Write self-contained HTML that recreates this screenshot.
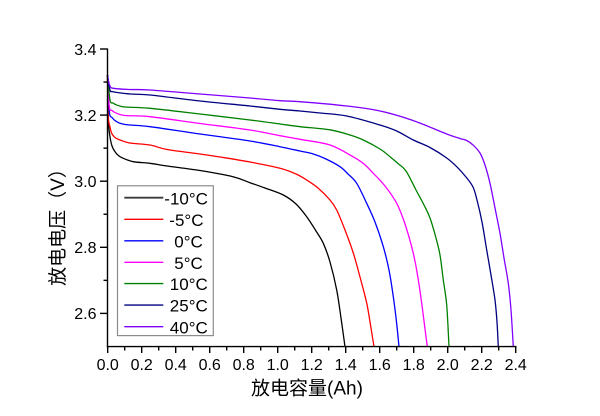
<!DOCTYPE html>
<html>
<head>
<meta charset="utf-8">
<style>
html,body{margin:0;padding:0;background:#fff;}
svg{display:block;}
text{font-family:"Liberation Sans","Noto Sans CJK SC",sans-serif;fill:#000;}
</style>
</head>
<body>
<svg id="chart" width="600" height="416" viewBox="0 0 600 416" xmlns="http://www.w3.org/2000/svg">
<rect width="600" height="416" fill="#fff"/>

<!-- curves -->
<g id="curves" fill="none" stroke-width="1.3" stroke-linejoin="round">
<polyline stroke="#000000" points="107.5,75 108.3,120 110,136.7 112,146 115,151.7 119,156 123.3,158.3 133.3,161.7 150,163.3 167,166 200,170.5 233,176.7 250,182.7 265,188 283.3,195 296,204 306.7,216.7 316,231 323.3,243.3 330,262 336.7,290 341,318 345,346.7"/>
<polyline stroke="#ff0000" points="107.5,75 108.3,116.7 110,127 111.7,133.3 115,137.5 120,140 130,143 150,145 167,149.5 200,154 220,157 250,162 280,168.3 296,174 306.7,180 318,188 330,200 336.7,210 345,230 353.3,253 360,277 366.7,303 370.5,325 374,346.7"/>
<polyline stroke="#0000ff" points="107.5,75 109.3,111.7 112,117.5 116.7,121.7 125,124.5 150,126.7 200,134 250,141 280,146.7 300,151 313.3,154 326,159 340,166.7 348,174 356.7,183.3 366.7,203.3 375,222 383.3,246.7 389,270 393.3,296.7 396.5,322 399,346.7"/>
<polyline stroke="#ff00ff" points="107.5,75 109.3,106.7 112,110.5 116.7,113.3 125,115.5 150,116.7 200,123.5 250,130 280,135.7 300,139.3 330,145 353,156.7 364,164 373.3,173.3 385,186 396.7,203.3 405,224 413.3,253.3 418,278 421.7,303.3 424.5,325 427.3,346.7"/>
<polyline stroke="#008000" points="107.5,75 110,100 113,103 116.7,105 125,107 150,108.3 200,114 250,120 280,124 300,126.7 330,129.8 350,135 363.3,140 380,149 390,156.7 398,163.5 406,171 416,190 424,205 430,218 436,238 440,255 443.3,280 446.7,305 449,346.7"/>
<polyline stroke="#000080" points="107.5,75 110,90 113,91.7 130,94 150,95 200,101 250,106 280,109.3 300,111 320,113 346.7,116 380,125 396.7,131 413.3,140 430,147.5 446.7,158 456.7,166.7 466,177 473,187 477,200 482,222 486.7,250 491,275 495,300 497,322 498.3,346.7"/>
<polyline stroke="#8000ff" points="107.5,75 108.3,80 110,86 113.3,88.3 130,89.5 150,90 200,94 250,98 280,100.7 300,101.7 346.7,106 380,111 413,120.5 446.7,134 460,138.5 466.7,140.5 473,145 480,153 485,165 490,183.3 495,208 500,233.3 504,258 508.3,283.3 511,310 513.3,346.7"/>
</g>

<!-- axes -->
<g stroke="#000" stroke-width="1.4" fill="none">
<line x1="107.5" y1="48.5" x2="107.5" y2="347.2"/>
<line x1="106.8" y1="346.6" x2="516.5" y2="346.6"/>
<line x1="100" y1="49" x2="107.5" y2="49"/>
<line x1="100" y1="115.1" x2="107.5" y2="115.1"/>
<line x1="100" y1="181.2" x2="107.5" y2="181.2"/>
<line x1="100" y1="247.3" x2="107.5" y2="247.3"/>
<line x1="100" y1="313.4" x2="107.5" y2="313.4"/>
<line x1="103.5" y1="82.05" x2="107.5" y2="82.05"/>
<line x1="103.5" y1="148.15" x2="107.5" y2="148.15"/>
<line x1="103.5" y1="214.25" x2="107.5" y2="214.25"/>
<line x1="103.5" y1="280.35" x2="107.5" y2="280.35"/>
<line x1="107.7" y1="346.6" x2="107.7" y2="353"/>
<line x1="141.7" y1="346.6" x2="141.7" y2="353"/>
<line x1="175.7" y1="346.6" x2="175.7" y2="353"/>
<line x1="209.7" y1="346.6" x2="209.7" y2="353"/>
<line x1="243.7" y1="346.6" x2="243.7" y2="353"/>
<line x1="277.7" y1="346.6" x2="277.7" y2="353"/>
<line x1="311.7" y1="346.6" x2="311.7" y2="353"/>
<line x1="345.7" y1="346.6" x2="345.7" y2="353"/>
<line x1="379.7" y1="346.6" x2="379.7" y2="353"/>
<line x1="413.7" y1="346.6" x2="413.7" y2="353"/>
<line x1="447.7" y1="346.6" x2="447.7" y2="353"/>
<line x1="481.7" y1="346.6" x2="481.7" y2="353"/>
<line x1="515.7" y1="346.6" x2="515.7" y2="353"/>
<line x1="124.7" y1="346.6" x2="124.7" y2="350.5"/>
<line x1="158.7" y1="346.6" x2="158.7" y2="350.5"/>
<line x1="192.7" y1="346.6" x2="192.7" y2="350.5"/>
<line x1="226.7" y1="346.6" x2="226.7" y2="350.5"/>
<line x1="260.7" y1="346.6" x2="260.7" y2="350.5"/>
<line x1="294.7" y1="346.6" x2="294.7" y2="350.5"/>
<line x1="328.7" y1="346.6" x2="328.7" y2="350.5"/>
<line x1="362.7" y1="346.6" x2="362.7" y2="350.5"/>
<line x1="396.7" y1="346.6" x2="396.7" y2="350.5"/>
<line x1="430.7" y1="346.6" x2="430.7" y2="350.5"/>
<line x1="464.7" y1="346.6" x2="464.7" y2="350.5"/>
<line x1="498.7" y1="346.6" x2="498.7" y2="350.5"/>
</g>

<!-- y tick labels -->
<g font-size="16" text-anchor="end">
<text x="96.5" y="54.8">3.4</text>
<text x="96.5" y="120.9">3.2</text>
<text x="96.5" y="187">3.0</text>
<text x="96.5" y="253.1">2.8</text>
<text x="96.5" y="319.2">2.6</text>
</g>

<!-- x tick labels -->
<g font-size="16" text-anchor="middle">
<text x="107.7" y="370">0.0</text>
<text x="141.7" y="370">0.2</text>
<text x="175.7" y="370">0.4</text>
<text x="209.7" y="370">0.6</text>
<text x="243.7" y="370">0.8</text>
<text x="277.7" y="370">1.0</text>
<text x="311.7" y="370">1.2</text>
<text x="345.7" y="370">1.4</text>
<text x="379.7" y="370">1.6</text>
<text x="413.7" y="370">1.8</text>
<text x="447.7" y="370">2.0</text>
<text x="481.7" y="370">2.2</text>
<text x="515.7" y="370">2.4</text>
</g>

<!-- axis titles -->
<text x="251" y="394.5" font-size="19">放电容量(Ah)</text>
<text transform="translate(64,222.5) rotate(-90)" font-size="19" text-anchor="middle">放电电压（V）</text>

<!-- legend -->
<rect x="117.5" y="185.8" width="95.8" height="149.8" fill="#fff" stroke="#8c8c8c" stroke-width="1.2"/>
<g stroke-width="1.4">
<line x1="124.3" y1="197.7" x2="163.3" y2="197.7" stroke="#3a3a3a" stroke-width="1.8"/>
<line x1="124.3" y1="219.3" x2="163.3" y2="219.3" stroke="#ff0000"/>
<line x1="124.3" y1="240.8" x2="163.3" y2="240.8" stroke="#0000ff"/>
<line x1="124.3" y1="262.3" x2="163.3" y2="262.3" stroke="#ff00ff"/>
<line x1="124.3" y1="283.6" x2="163.3" y2="283.6" stroke="#008000"/>
<line x1="124.3" y1="305.1" x2="163.3" y2="305.1" stroke="#000080"/>
<line x1="124.3" y1="326.7" x2="163.3" y2="326.7" stroke="#8000ff"/>
</g>
<g font-size="17">
<text x="164.3" y="204.3">-10°C</text>
<text x="169.3" y="225.9">-5°C</text>
<text x="174.3" y="247.4">0°C</text>
<text x="174.3" y="268.9">5°C</text>
<text x="169.8" y="290.2">10°C</text>
<text x="169.8" y="311.7">25°C</text>
<text x="169.8" y="333.3">40°C</text>
</g>
</svg>
<script>
(function(){
  var g=document.getElementById('curves');
  if(!g) return;
  var pls=g.querySelectorAll('polyline');
  for(var i=0;i<pls.length;i++){
    var pl=pls[i];
    var pts=pl.getAttribute('points').trim().split(/\s+/).map(function(s){var a=s.split(',');return [parseFloat(a[0]),parseFloat(a[1])];});
    var d='M'+pts[0][0]+','+pts[0][1];
    for(var k=0;k<pts.length-1;k++){
      var p0=pts[k>0?k-1:k],p1=pts[k],p2=pts[k+1],p3=pts[k+2<pts.length?k+2:k+1];
      var t=0.5/3;
      var c1x=p1[0]+(p2[0]-p0[0])*t, c1y=p1[1]+(p2[1]-p0[1])*t;
      var c2x=p2[0]-(p3[0]-p1[0])*t, c2y=p2[1]-(p3[1]-p1[1])*t;
      d+=' C'+c1x.toFixed(2)+','+c1y.toFixed(2)+' '+c2x.toFixed(2)+','+c2y.toFixed(2)+' '+p2[0]+','+p2[1];
    }
    var path=document.createElementNS('http://www.w3.org/2000/svg','path');
    path.setAttribute('d',d);
    path.setAttribute('stroke',pl.getAttribute('stroke'));
    g.replaceChild(path,pl);
  }
})();
</script>
</body>
</html>
